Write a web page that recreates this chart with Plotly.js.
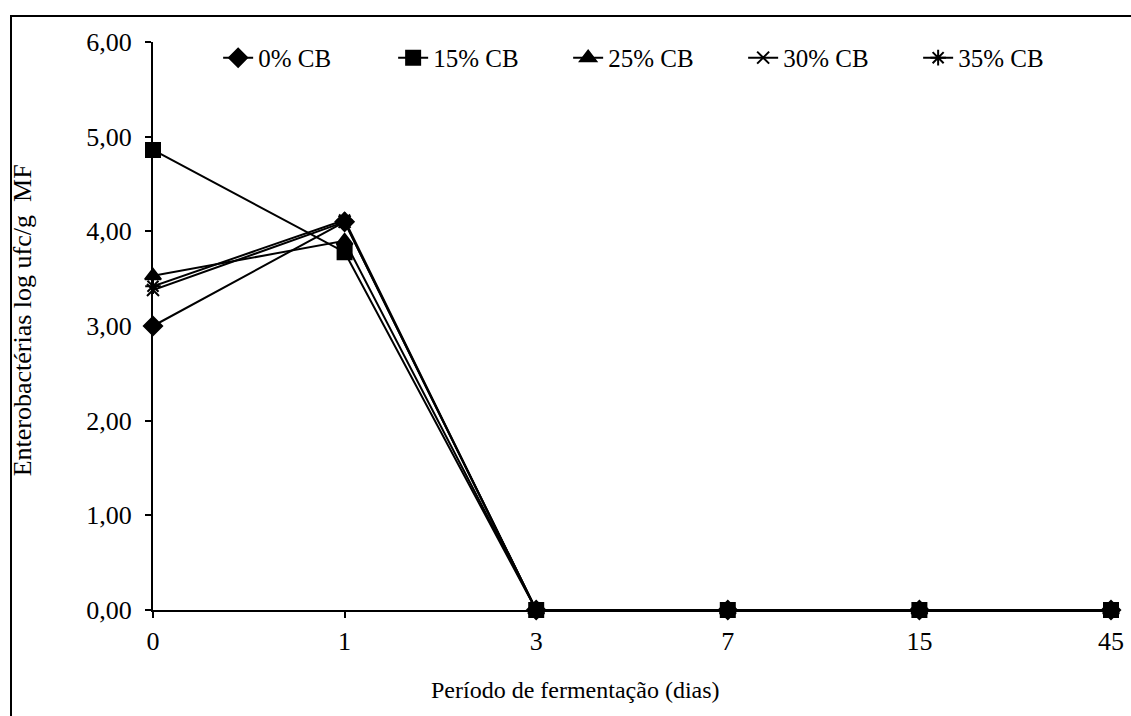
<!DOCTYPE html>
<html>
<head>
<meta charset="utf-8">
<script src="https://cdn.plot.ly/plotly-3.0.1.min.js"></script>
<style>
  html, body { margin: 0; padding: 0; background: #fff; }
  #wrap { position: relative; width: 1131px; height: 716px; overflow: hidden; }
  #chart { width: 1131px; height: 716px; }
  #frame { position: absolute; left: 10px; top: 15px; width: 1200px; height: 800px;
           border: 2px solid #000; pointer-events: none; box-sizing: border-box; }
</style>
</head>
<body>
<div id="wrap">
  <div id="chart"></div>
  <div id="frame"></div>
</div>
<script>
const days = ["0", "1", "3", "7", "15", "45"];
const seriesNames = ["0% CB", "15% CB", "25% CB", "30% CB", "35% CB"];
const cb0  = [3.00, 4.10, 0, 0, 0, 0];
const cb15 = [4.86, 3.78, 0, 0, 0, 0];
const cb25 = [3.53, 3.90, 0, 0, 0, 0];
const cb30 = [3.38, 4.10, 0, 0, 0, 0];
const cb35 = [3.42, 4.12, 0, 0, 0, 0];
const yTicks = [0, 1, 2, 3, 4, 5, 6];

const values = [cb0, cb15, cb25, cb30, cb35];
const symbols = ["diamond", "square", "triangle-up", "x-thin-open", "asterisk-open"];
const sizes = [14, 14, 14, 12, 13];

const traces = values.map((v, i) => ({
  x: days, y: v, name: seriesNames[i], type: "scatter", mode: "lines+markers",
  cliponaxis: false,
  line: { color: "#000", width: 2 },
  marker: { symbol: symbols[i], size: sizes[i], color: "#000",
            line: { color: "#000", width: 2 } }
}));

const font = "Liberation Serif, Times New Roman, serif";
const layout = {
  width: 1131, height: 716,
  margin: { l: 153, r: 20, t: 42, b: 106 },
  paper_bgcolor: "#fff", plot_bgcolor: "#fff",
  separators: ",.",
  font: { family: font, size: 24, color: "#000" },
  showlegend: true,
  legend: {
    orientation: "h", x: 0.068, xanchor: "left", y: 0.972, yanchor: "middle",
    bgcolor: "rgba(0,0,0,0)", font: { family: font, size: 25, color: "#000" },
    entrywidth: 130, entrywidthmode: "pixels", traceorder: "normal"
  },
  xaxis: {
    type: "category", categoryorder: "array", categoryarray: days,
    range: [0, 5], autorange: false,
    showline: true, linecolor: "#000", linewidth: 2,
    ticks: "outside", ticklen: 6, tickwidth: 2, tickcolor: "#000",
    showgrid: false, zeroline: false, ticklabelstandoff: 1,
    tickfont: { family: font, size: 26, color: "#000" }
  },
  yaxis: {
    range: [0, 6], autorange: false, tickvals: yTicks, tickformat: ".2f",
    showline: true, linecolor: "#000", linewidth: 2,
    ticks: "outside", ticklen: 6, tickwidth: 2, tickcolor: "#000",
    showgrid: false, zeroline: false, ticklabelstandoff: 8,
    tickfont: { family: font, size: 26, color: "#000" }
  },
  annotations: [{
    text: "Período de fermentação (dias)", xref: "paper", yref: "paper",
    x: (575 - 153) / 958, y: -(690 - 610) / 568, xanchor: "center", yanchor: "middle",
    showarrow: false, font: { family: font, size: 24, color: "#000" }
  }, {
    text: "Enterobactérias log ufc/g  MF", xref: "paper", yref: "paper",
    x: (22 - 153) / 958, y: 0.51, xanchor: "center", yanchor: "middle", textangle: -90,
    showarrow: false, font: { family: font, size: 26, color: "#000" }
  }]
};

Plotly.newPlot("chart", traces, layout, { displayModeBar: false, staticPlot: true });
</script>
</body>
</html>
